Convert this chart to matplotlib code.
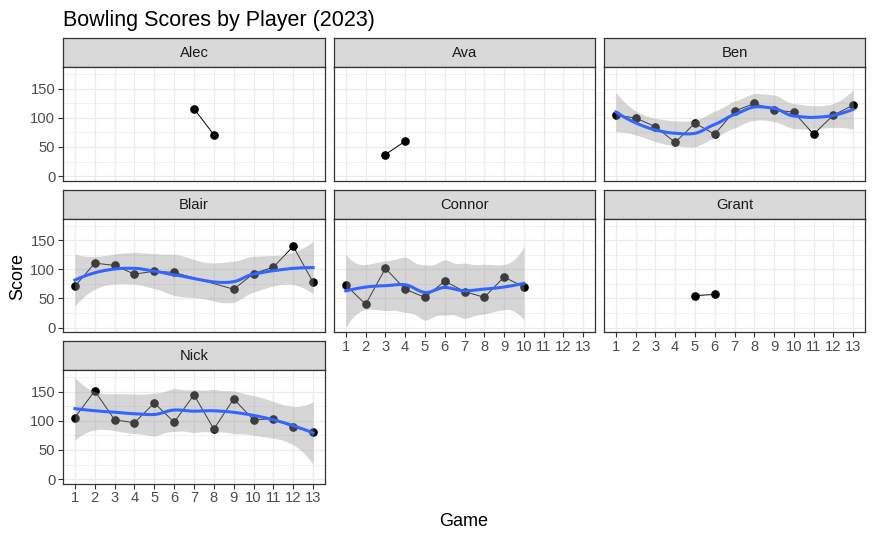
import math
import numpy as np
import matplotlib
matplotlib.use("Agg")
from matplotlib import pyplot as plt

plt.rcParams['font.family'] = ['Liberation Sans', 'DejaVu Sans']

# data
players = ['Alec', 'Ava', 'Ben', 'Blair', 'Connor', 'Grant', 'Nick']
games = {
    'Alec': [7, 8],
    'Ava': [3, 4],
    'Ben': list(range(1, 14)),
    'Blair': [1, 2, 3, 4, 5, 6, 9, 10, 11, 12, 13],
    'Connor': list(range(1, 11)),
    'Grant': [5, 6],
    'Nick': list(range(1, 14)),
}
scores = {
    'Alec': [116, 71],
    'Ava': [37, 60],
    'Ben': [105, 100, 85, 58, 91, 72, 112, 125, 114, 110, 72, 105, 122],
    'Blair': [71, 111, 107, 92, 97, 95, 66, 93, 104, 140, 78],
    'Connor': [73, 40, 102, 66, 52, 80, 62, 52, 87, 70],
    'Grant': [55, 57],
    'Nick': [106, 152, 102, 97, 131, 98, 145, 86, 138, 102, 104, 89, 81],
}
x_ticks = list(range(1, 14))
y_ticks = [0, 50, 100, 150]
y_minor = [25, 75, 125, 175]

SPAN = 0.75


# ---- loess (span .75, degree 2, kd-tree + hermite interpolation) ----
def local_rows(x, x0):
    # operator rows for local value and slope at x0
    n = len(x)
    q = int(np.floor(n * SPAN))
    d = np.abs(x - x0)
    h = np.sort(d)[q - 1]
    w = np.clip(1 - (d / h) ** 3, 0, None) ** 3
    X = np.vstack([np.ones(n), x - x0, (x - x0) ** 2]).T
    XtW = X.T * w
    A = np.linalg.pinv(XtW @ X) @ XtW
    return A[0], A[1]


def vertices(x):
    xs = np.sort(x)
    t = 0.005 * (xs[-1] - xs[0])
    v = [xs[0] - t, xs[-1] + t]
    fc = int(np.floor(len(x) * SPAN * 0.2))

    def split(lo, hi, pts):
        if len(pts) <= fc:
            return
        m = (len(pts) - 1) // 2
        cut = pts[m]
        if cut == lo or cut == hi:
            return
        v.append(cut)
        split(lo, cut, pts[:m + 1])
        split(cut, hi, pts[m + 1:])

    split(v[0], v[1], xs)
    return np.array(sorted(v))


def loess_operator(x, x0s):
    V = vertices(x)
    vals, slopes = zip(*[local_rows(x, v) for v in V])
    vals = np.array(vals)
    slopes = np.array(slopes)
    rows = []
    for x0 in x0s:
        j = min(max(np.searchsorted(V, x0) - 1, 0), len(V) - 2)
        h = V[j + 1] - V[j]
        t = (x0 - V[j]) / h
        h00 = 2 * t ** 3 - 3 * t ** 2 + 1
        h10 = t ** 3 - 2 * t ** 2 + t
        h01 = -2 * t ** 3 + 3 * t ** 2
        h11 = t ** 3 - t ** 2
        rows.append(h00 * vals[j] + h10 * h * slopes[j]
                    + h01 * vals[j + 1] + h11 * h * slopes[j + 1])
    return np.array(rows)


def t_ppf(p, df):
    c = math.exp(math.lgamma((df + 1) / 2) - math.lgamma(df / 2)) / math.sqrt(df * math.pi)

    def cdf(t):
        tt = np.linspace(0, t, 2001)
        f = c * (1 + tt ** 2 / df) ** (-(df + 1) / 2)
        return 0.5 + np.trapezoid(f, tt)

    lo, hi = 0.0, 50.0
    for _ in range(60):
        mid = (lo + hi) / 2
        if cdf(mid) < p:
            lo = mid
        else:
            hi = mid
    return (lo + hi) / 2


def smooth(x, y):
    x = np.asarray(x, float)
    y = np.asarray(y, float)
    xs = np.linspace(x.min(), x.max(), 80)
    L = loess_operator(x, x)
    Ln = loess_operator(x, xs)
    R = np.eye(len(x)) - L
    M = R.T @ R
    d1 = np.trace(M)
    d2 = np.trace(M @ M)
    s = math.sqrt(np.sum((R @ y) ** 2) / d1)
    fit = Ln @ y
    se = s * np.sqrt(np.sum(Ln ** 2, axis=1))
    t = t_ppf(0.975, d1 ** 2 / d2)
    return xs, fit, fit - t * se, fit + t * se


# ---- layout in pixels ----
W, H = 874, 540
fig = plt.figure(figsize=(W / 100, H / 100), dpi=100)
fig.patch.set_facecolor('white')

cols = [(63, 325), (334, 595), (604, 865)]
row_tops = [38.3, 189.8, 341.3]
strip_h = 29
panel_h = 113.4


def px_axes(x0, y0, x1, y1):
    return fig.add_axes([x0 / W, 1 - y1 / H, (x1 - x0) / W, (y1 - y0) / H])


bottom_of_col = {0: 6, 1: 4, 2: 5}

for i, p in enumerate(players):
    r, c = divmod(i, 3)
    x0, x1 = cols[c]
    top = row_tops[r]

    sax = px_axes(x0, top, x1, top + strip_h)
    sax.set_facecolor('#D9D9D9')
    sax.set_xticks([])
    sax.set_yticks([])
    for sp in sax.spines.values():
        sp.set_color('#333333')
        sp.set_linewidth(0.9)
    sax.text(0.5, 0.48, p, ha='center', va='center', fontsize=10.6,
             color='#1A1A1A', transform=sax.transAxes)

    ax = px_axes(x0, top + strip_h, x1, top + strip_h + panel_h)
    ax.set_xlim(0.4, 13.6)
    ax.set_ylim(-8.1, 187.4)
    ax.set_xticks(x_ticks)
    ax.set_yticks(y_ticks)
    ax.set_yticks(y_minor, minor=True)
    ax.grid(True, which='major', color='#EBEBEB', lw=0.9)
    ax.grid(True, which='minor', axis='y', color='#EBEBEB', lw=0.5)
    ax.set_axisbelow(True)
    for sp in ax.spines.values():
        sp.set_color('#333333')
        sp.set_linewidth(0.9)
    ax.tick_params(which='major', length=3.5, width=0.8, color='#333333',
                   labelsize=10.6, labelcolor='#4D4D4D', pad=2)
    ax.tick_params(which='minor', length=0)
    if c != 0:
        ax.tick_params(axis='y', which='major', length=0, labelleft=False)
    if i != bottom_of_col[c]:
        ax.tick_params(axis='x', length=0, labelbottom=False)

    gx = games[p]
    gy = scores[p]
    ax.plot(gx, gy, color='black', lw=0.7, zorder=2)
    ax.plot(gx, gy, 'o', color='black', ms=5.2, zorder=3)
    if len(gx) > 3:
        xs, fit, lo, hi = smooth(gx, gy)
        ax.fill_between(xs, lo, hi, color='#999999', alpha=0.4, lw=0, zorder=4)
        ax.plot(xs, fit, color='#3366FF', lw=2.2, zorder=5)

fig.text(63 / W, 1 - 26 / H, 'Bowling Scores by Player (2023)', fontsize=15.5,
         color='black', ha='left', va='baseline')
fig.text(464 / W, 1 - 526 / H, 'Game', fontsize=13, ha='center', va='baseline')
fig.text(18 / W, 1 - 276 / H, 'Score', fontsize=13, rotation=90,
         ha='center', va='center')

plt.savefig('out.png', dpi=100)
